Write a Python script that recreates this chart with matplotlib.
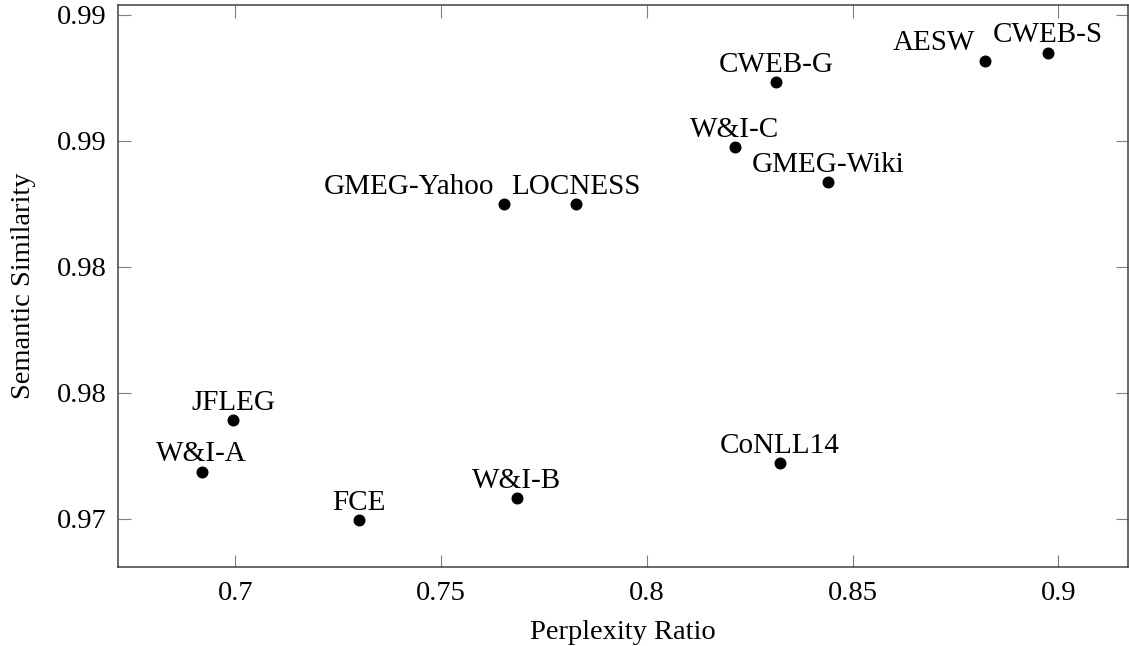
import matplotlib
matplotlib.use("Agg")
import matplotlib.pyplot as plt

plt.rcParams['font.family'] = ['Liberation Serif', 'DejaVu Serif']
plt.rcParams['mathtext.fontset'] = 'stix'

# datasets
names = ['W&I-A', 'JFLEG', 'FCE', 'W&I-B', 'GMEG-Yahoo', 'LOCNESS',
         'W&I-C', 'CWEB-G', 'GMEG-Wiki', 'CoNLL14', 'AESW', 'CWEB-S']
perplexity_ratio = [0.6918, 0.6995, 0.7301, 0.7684, 0.7653, 0.7827,
                    0.8214, 0.8314, 0.8440, 0.8323, 0.8822, 0.8974]
semantic_sim = [0.97188, 0.97393, 0.96996, 0.97083, 0.98249, 0.98249,
                0.98475, 0.98733, 0.98336, 0.97221, 0.98819, 0.98850]
# labels placed "above left" instead of "above"
left_labels = ['GMEG-Yahoo', 'AESW']

xticks = [0.7, 0.75, 0.8, 0.85, 0.9]
xtick_labels = ['0.7', '0.75', '0.8', '0.85', '0.9']
yticks = [0.970, 0.975, 0.980, 0.985, 0.990]
ytick_labels = ['0.97', '0.98', '0.98', '0.99', '0.99']

fig = plt.figure(figsize=(11.29, 6.46), dpi=100)
ax = fig.add_axes([0.1043, 0.1228, 0.8944, 0.8695])

ax.scatter(perplexity_ratio, semantic_sim, s=58, color='black', zorder=3)

for name, x, y in zip(names, perplexity_ratio, semantic_sim):
    if name in left_labels:
        ax.annotate(name, (x, y), xytext=(-7, 7.5), textcoords='offset points',
                    ha='right', va='baseline', fontsize=21)
    else:
        ax.annotate(name, (x, y), xytext=(0, 7.5), textcoords='offset points',
                    ha='center', va='baseline', fontsize=21)

ax.set_xlim(0.6714, 0.9168)
ax.set_ylim(0.968107, 0.990397)
ax.set_xticks(xticks)
ax.set_xticklabels(xtick_labels)
ax.set_yticks(yticks)
ax.set_yticklabels(ytick_labels)

ax.tick_params(direction='in', length=9, width=0.8, color='#808080',
               labelsize=20.5, top=True, right=True)
ax.tick_params(axis='x', pad=10)
ax.tick_params(axis='y', pad=8)
for sp in ax.spines.values():
    sp.set_color('#404040')
    sp.set_linewidth(1.1)

ax.set_xlabel('Perplexity Ratio', fontsize=20.5, labelpad=10.5)
ax.set_ylabel('Semantic Similarity', fontsize=20.5, labelpad=15)

fig.savefig('out.png', dpi=100)
